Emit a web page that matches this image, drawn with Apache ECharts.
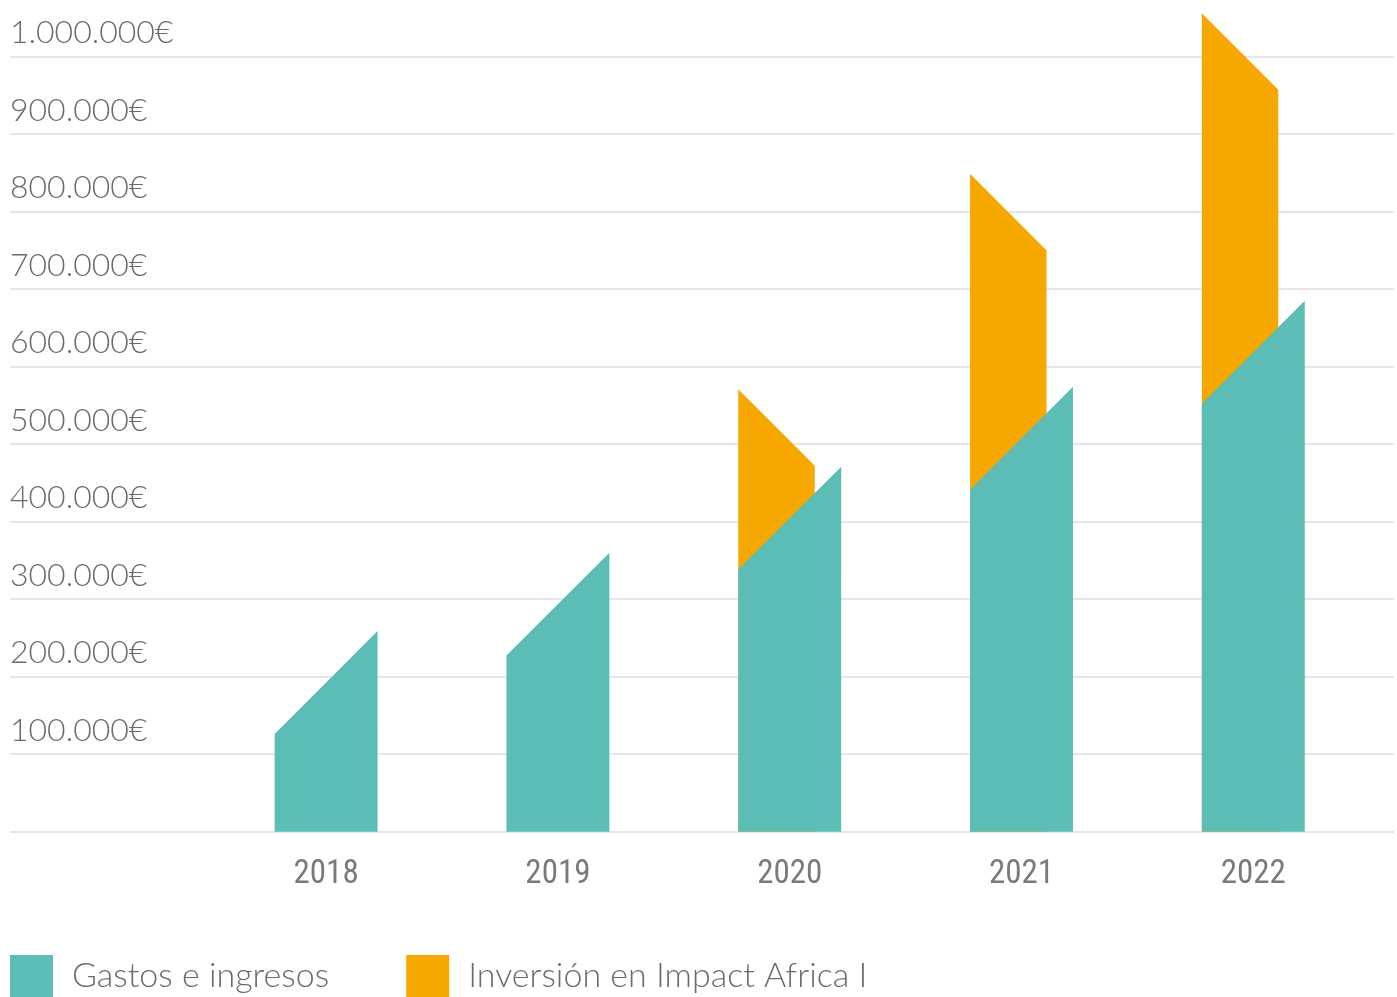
<!DOCTYPE html>
<html>
<head>
<meta charset="utf-8">
<script src="https://cdn.jsdelivr.net/npm/echarts@6/dist/echarts.min.js"></script>
<style>
  html, body { margin: 0; padding: 0; background: #ffffff; }
  #chart { width: 1397px; height: 997px; }
</style>
</head>
<body>
<div id="chart"></div>
<script>
// ---- data ----
const years = ['2018', '2019', '2020', '2021', '2022'];
const gastos = [259000, 360000, 471000, 574000, 685000];
const inversion = [null, null, 571000, 849000, 1056000];
const seriesNames = ['Gastos e ingresos', 'Inversión en Impact Africa I'];
const yTicks = [0, 100000, 200000, 300000, 400000, 500000, 600000, 700000, 800000, 900000, 1000000];

const TEAL = '#5bbdb5';
const ORANGE = '#f7a800';
const TEXT = '#6b6b6b';
const XTEXT = '#7a7a7a';
const GRID = '#dedde7';

function fmtEuro(v) {
  if (v === 0) return '';
  return String(Math.round(v)).replace(/\B(?=(\d{3})+(?!\d))/g, '.') + '€';
}

function tealShape(params, api) {
  const x = api.value(0), v = api.value(1);
  if (v == null || isNaN(v)) return null;
  const top = api.coord([x, v]);
  const base = api.coord([x, 0]);
  const w = api.size([1, 0])[0] * 0.444;
  const l = top[0] - w / 2, r = top[0] + w / 2;
  return {
    type: 'polygon',
    shape: { points: [[l, base[1]], [l, top[1] + w], [r, top[1]], [r, base[1]]] },
    style: { fill: TEAL }
  };
}

function orangeShape(params, api) {
  const x = api.value(0), v = api.value(1);
  if (v == null || isNaN(v)) return null;
  const top = api.coord([x, v]);
  const base = api.coord([x, 0]);
  const w = api.size([1, 0])[0] * 0.444;
  const wo = w * 0.743;
  const l = top[0] - w / 2;
  return {
    type: 'polygon',
    shape: { points: [[l, base[1]], [l, top[1]], [l + wo, top[1] + wo], [l + wo, base[1]]] },
    style: { fill: ORANGE }
  };
}

const chart = echarts.init(document.getElementById('chart'), null, { renderer: 'canvas' });
chart.setOption({
  animation: false,
  color: [TEAL, ORANGE],
  grid: { left: 10, right: 0, top: 56.7, bottom: 997 - 831.7, containLabel: false },
  legend: {
    data: seriesNames,
    left: 10,
    top: 955,
    padding: 0,
    icon: 'rect',
    itemWidth: 43,
    itemHeight: 43,
    itemGap: 77,
    textStyle: { fontFamily: 'Lato', fontWeight: 300, fontSize: 34, color: TEXT, padding: [6, 0, 0, 14] }
  },
  xAxis: {
    type: 'value',
    min: -1.3638,
    max: 4.607,
    splitLine: { show: false },
    axisLine: { show: false },
    axisTick: { show: false },
    axisLabel: {
      margin: 27,
      fontFamily: '"Liberation Sans Narrow", "Roboto Condensed", Roboto, sans-serif',
      fontSize: 33,
      color: XTEXT,
      formatter: function (v) {
        const i = Math.round(v);
        return (Math.abs(v - i) < 1e-6 && years[i]) ? years[i] : '';
      }
    }
  },
  yAxis: {
    type: 'value',
    min: yTicks[0],
    max: yTicks[yTicks.length - 1],
    interval: yTicks[1] - yTicks[0],
    axisLine: { show: false },
    axisTick: { show: false },
    splitLine: { lineStyle: { color: GRID, width: 1.5 } },
    axisLabel: {
      inside: true,
      margin: 0,
      verticalAlign: 'bottom',
      padding: [0, 0, 8, 0],
      fontFamily: 'Lato',
      fontWeight: 300,
      fontSize: 32,
      color: TEXT,
      formatter: fmtEuro
    }
  },
  series: [
    {
      name: seriesNames[0],
      type: 'custom',
      z: 3,
      clip: false,
      itemStyle: { color: TEAL },
      renderItem: tealShape,
      encode: { x: 0, y: 1 },
      data: gastos.map((v, i) => [i, v])
    },
    {
      name: seriesNames[1],
      type: 'custom',
      z: 2,
      clip: false,
      itemStyle: { color: ORANGE },
      renderItem: orangeShape,
      encode: { x: 0, y: 1 },
      data: inversion.map((v, i) => [i, v])
    }
  ]
});
</script>
</body>
</html>
